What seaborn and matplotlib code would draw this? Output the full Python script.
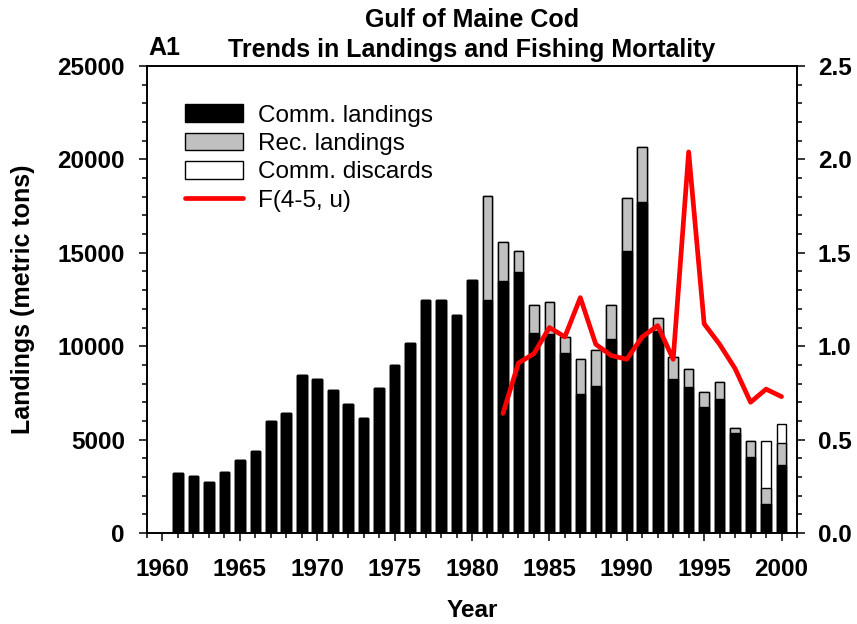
import numpy as np
import pandas as pd
import matplotlib
matplotlib.use("Agg")
import matplotlib.pyplot as plt
import seaborn as sns
from matplotlib.patches import Patch
from matplotlib.lines import Line2D
from matplotlib.ticker import MultipleLocator, FormatStrFormatter

# Gulf of Maine cod, 1961-2000 (metric tons)
years = list(range(1961, 2001))
comm_landings = [3230, 3070, 2730, 3250, 3930, 4410, 5980, 6430, 8480, 8250,
                 7660, 6930, 6160, 7770, 9020, 10180, 12450, 12450, 11680, 13520,
                 12500, 13500, 13950, 10730, 10660, 9610, 7460, 7890, 10360, 15070,
                 17710, 10840, 8270, 7840, 6770, 7160, 5380, 4090, 1570, 3660]
rec_landings = [0] * 20 + [5540, 2070, 1170, 1450, 1730, 870, 1840, 1880, 1820, 2860,
                           2970, 660, 1160, 950, 770, 910, 260, 860, 840, 1140]
comm_discards = [0] * 38 + [2520, 1060]

# fishing mortality F(4-5, u)
f_years = list(range(1982, 2001))
f_values = [0.64, 0.91, 0.96, 1.10, 1.05, 1.26, 1.01, 0.95, 0.93, 1.05,
            1.11, 0.93, 2.04, 1.12, 1.01, 0.88, 0.70, 0.77, 0.73]

df = pd.DataFrame({'Year': years, 'Comm': comm_landings,
                   'Rec': rec_landings, 'Disc': comm_discards})
df['CommRec'] = df['Comm'] + df['Rec']
df['Total'] = df['CommRec'] + df['Disc']
fdf = pd.DataFrame({'Year': f_years, 'F': f_values})

sns.set_style('ticks')
plt.rcParams['font.family'] = ['Liberation Sans', 'DejaVu Sans']
plt.rcParams['text.color'] = 'black'
plt.rcParams['axes.labelcolor'] = 'black'
plt.rcParams['xtick.color'] = 'black'
plt.rcParams['ytick.color'] = 'black'

fig = plt.figure(figsize=(8.57, 6.24), dpi=100)
ax = fig.add_axes([147 / 857, 1 - 533 / 624, 650 / 857, 467 / 624])

bw = 0.62
sns.barplot(data=df, x='Year', y='Total', native_scale=True, width=bw, errorbar=None,
            color='white', edgecolor='black', linewidth=1, saturation=1, ax=ax)
sns.barplot(data=df, x='Year', y='CommRec', native_scale=True, width=bw, errorbar=None,
            color='#c0c0c0', edgecolor='black', linewidth=1, saturation=1, ax=ax)
sns.barplot(data=df, x='Year', y='Comm', native_scale=True, width=bw, errorbar=None,
            color='black', edgecolor='black', linewidth=1, saturation=1, ax=ax)

ax2 = ax.twinx()
sns.lineplot(data=fdf, x='Year', y='F', color='red', linewidth=3.4, ax=ax2)

ax.set_xlim(1959, 2001)
ax.set_ylim(0, 25000)
ax2.set_ylim(0, 2.5)

ax.xaxis.set_major_locator(MultipleLocator(5))
ax.xaxis.set_minor_locator(MultipleLocator(1))
ax.yaxis.set_major_locator(MultipleLocator(5000))
ax.yaxis.set_minor_locator(MultipleLocator(1000))
ax2.yaxis.set_major_locator(MultipleLocator(0.5))
ax2.yaxis.set_minor_locator(MultipleLocator(0.1))
ax2.yaxis.set_major_formatter(FormatStrFormatter('%.1f'))
ax.xaxis.set_major_formatter(FormatStrFormatter('%d'))

for a in (ax, ax2):
    for s in a.spines.values():
        s.set_linewidth(1.2)
        s.set_color('black')
    a.tick_params(which='major', length=6, width=1.1, direction='out', color='black')
    a.tick_params(which='minor', length=3.6, width=1.1, direction='out', color='black')

ax.tick_params(axis='y', which='major', pad=10, labelsize=17.5)
ax.tick_params(axis='x', which='major', pad=12, labelsize=17.5)
ax.tick_params(top=False, which='both')
ax2.tick_params(axis='y', which='major', pad=9, labelsize=17.5)
for lab in ax.get_xticklabels() + ax.get_yticklabels() + ax2.get_yticklabels():
    lab.set_fontweight('bold')

ax.set_xlabel('Year', fontsize=17.5, fontweight='bold', labelpad=13)
ax.set_ylabel('Landings (metric tons)', fontsize=18, fontweight='bold', labelpad=16)
ax2.set_ylabel('')

fig.text(472 / 857, 1 - 27 / 624, 'Gulf of Maine Cod', ha='center', va='baseline',
         fontsize=18, fontweight='bold')
fig.text(472 / 857, 1 - 57 / 624, 'Trends in Landings and Fishing Mortality', ha='center',
         va='baseline', fontsize=18, fontweight='bold')
fig.text(148 / 857, 1 - 55 / 624, 'A1', ha='left', va='baseline', fontsize=18,
         fontweight='bold')

handles = [Patch(facecolor='black', edgecolor='black', linewidth=1),
           Patch(facecolor='#c0c0c0', edgecolor='black', linewidth=1),
           Patch(facecolor='white', edgecolor='black', linewidth=1),
           Line2D([0], [0], color='red', linewidth=3.4)]
labels = ['Comm. landings', 'Rec. landings', 'Comm. discards', 'F(4-5, u)']
ax2.legend(handles, labels, loc='upper left', bbox_to_anchor=(0.058, 0.918),
           frameon=False, fontsize=17.5, handlelength=2.4, handleheight=0.75,
           handletextpad=0.62, labelspacing=0.245, borderpad=0, borderaxespad=0)

fig.savefig('out.png', dpi=100)
